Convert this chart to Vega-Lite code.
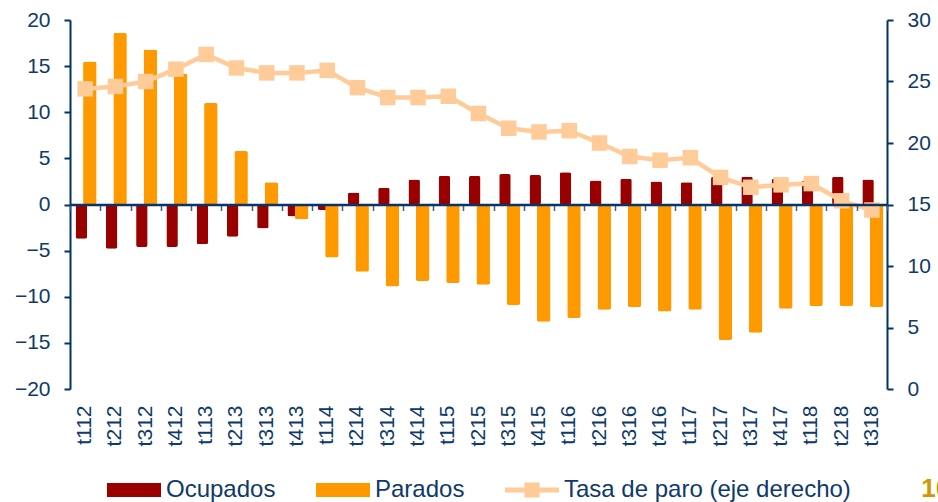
{
  "$schema": "https://vega.github.io/schema/vega-lite/v6.json",
  "width": 817,
  "height": 369,
  "autosize": {"type": "none"},
  "padding": {"left": 70, "top": 20, "right": 51, "bottom": 113},
  "background": "white",
  "config": {
    "view": {"stroke": null},
    "font": "Liberation Sans",
    "axis": {"labelFont": "Liberation Sans", "labelColor": "#0E3A6A", "domainColor": "#003366", "tickColor": "#003366", "grid": false, "title": null}
  },
  "title": {"text": "10", "orient": "right", "anchor": "end", "frame": "group", "angle": 0, "align": "left", "baseline": "alphabetic", "color": "#CC9900", "fontSize": 26, "fontWeight": "bold", "font": "Liberation Sans", "offset": -38, "dy": 108},
  "data": {
    "values": [
      {"q": "t112", "s": "Ocupados", "v": -3.7}, {"q": "t112", "s": "Parados", "v": 15.5}, {"q": "t112", "s": "Tasa de paro (eje derecho)", "v": 24.4},
      {"q": "t212", "s": "Ocupados", "v": -4.8}, {"q": "t212", "s": "Parados", "v": 18.6}, {"q": "t212", "s": "Tasa de paro (eje derecho)", "v": 24.6},
      {"q": "t312", "s": "Ocupados", "v": -4.6}, {"q": "t312", "s": "Parados", "v": 16.8}, {"q": "t312", "s": "Tasa de paro (eje derecho)", "v": 25.0},
      {"q": "t412", "s": "Ocupados", "v": -4.6}, {"q": "t412", "s": "Parados", "v": 14.2}, {"q": "t412", "s": "Tasa de paro (eje derecho)", "v": 26.0},
      {"q": "t113", "s": "Ocupados", "v": -4.3}, {"q": "t113", "s": "Parados", "v": 11.0}, {"q": "t113", "s": "Tasa de paro (eje derecho)", "v": 27.2},
      {"q": "t213", "s": "Ocupados", "v": -3.5}, {"q": "t213", "s": "Parados", "v": 5.8}, {"q": "t213", "s": "Tasa de paro (eje derecho)", "v": 26.1},
      {"q": "t313", "s": "Ocupados", "v": -2.6}, {"q": "t313", "s": "Parados", "v": 2.4}, {"q": "t313", "s": "Tasa de paro (eje derecho)", "v": 25.7},
      {"q": "t413", "s": "Ocupados", "v": -1.3}, {"q": "t413", "s": "Parados", "v": -1.6}, {"q": "t413", "s": "Tasa de paro (eje derecho)", "v": 25.7},
      {"q": "t114", "s": "Ocupados", "v": -0.6}, {"q": "t114", "s": "Parados", "v": -5.75}, {"q": "t114", "s": "Tasa de paro (eje derecho)", "v": 25.9},
      {"q": "t214", "s": "Ocupados", "v": 1.3}, {"q": "t214", "s": "Parados", "v": -7.3}, {"q": "t214", "s": "Tasa de paro (eje derecho)", "v": 24.5},
      {"q": "t314", "s": "Ocupados", "v": 1.8}, {"q": "t314", "s": "Parados", "v": -8.9}, {"q": "t314", "s": "Tasa de paro (eje derecho)", "v": 23.7},
      {"q": "t414", "s": "Ocupados", "v": 2.7}, {"q": "t414", "s": "Parados", "v": -8.3}, {"q": "t414", "s": "Tasa de paro (eje derecho)", "v": 23.7},
      {"q": "t115", "s": "Ocupados", "v": 3.1}, {"q": "t115", "s": "Parados", "v": -8.5}, {"q": "t115", "s": "Tasa de paro (eje derecho)", "v": 23.8},
      {"q": "t215", "s": "Ocupados", "v": 3.1}, {"q": "t215", "s": "Parados", "v": -8.7}, {"q": "t215", "s": "Tasa de paro (eje derecho)", "v": 22.4},
      {"q": "t315", "s": "Ocupados", "v": 3.3}, {"q": "t315", "s": "Parados", "v": -10.9}, {"q": "t315", "s": "Tasa de paro (eje derecho)", "v": 21.2},
      {"q": "t415", "s": "Ocupados", "v": 3.2}, {"q": "t415", "s": "Parados", "v": -12.7}, {"q": "t415", "s": "Tasa de paro (eje derecho)", "v": 20.9},
      {"q": "t116", "s": "Ocupados", "v": 3.5}, {"q": "t116", "s": "Parados", "v": -12.3}, {"q": "t116", "s": "Tasa de paro (eje derecho)", "v": 21.0},
      {"q": "t216", "s": "Ocupados", "v": 2.6}, {"q": "t216", "s": "Parados", "v": -11.4}, {"q": "t216", "s": "Tasa de paro (eje derecho)", "v": 20.0},
      {"q": "t316", "s": "Ocupados", "v": 2.8}, {"q": "t316", "s": "Parados", "v": -11.1}, {"q": "t316", "s": "Tasa de paro (eje derecho)", "v": 18.9},
      {"q": "t416", "s": "Ocupados", "v": 2.5}, {"q": "t416", "s": "Parados", "v": -11.6}, {"q": "t416", "s": "Tasa de paro (eje derecho)", "v": 18.6},
      {"q": "t117", "s": "Ocupados", "v": 2.4}, {"q": "t117", "s": "Parados", "v": -11.4}, {"q": "t117", "s": "Tasa de paro (eje derecho)", "v": 18.8},
      {"q": "t217", "s": "Ocupados", "v": 3.0}, {"q": "t217", "s": "Parados", "v": -14.7}, {"q": "t217", "s": "Tasa de paro (eje derecho)", "v": 17.2},
      {"q": "t317", "s": "Ocupados", "v": 3.0}, {"q": "t317", "s": "Parados", "v": -13.9}, {"q": "t317", "s": "Tasa de paro (eje derecho)", "v": 16.4},
      {"q": "t417", "s": "Ocupados", "v": 2.8}, {"q": "t417", "s": "Parados", "v": -11.3}, {"q": "t417", "s": "Tasa de paro (eje derecho)", "v": 16.6},
      {"q": "t118", "s": "Ocupados", "v": 2.6}, {"q": "t118", "s": "Parados", "v": -11.0}, {"q": "t118", "s": "Tasa de paro (eje derecho)", "v": 16.7},
      {"q": "t218", "s": "Ocupados", "v": 3.0}, {"q": "t218", "s": "Parados", "v": -11.0}, {"q": "t218", "s": "Tasa de paro (eje derecho)", "v": 15.3},
      {"q": "t318", "s": "Ocupados", "v": 2.7}, {"q": "t318", "s": "Parados", "v": -11.1}, {"q": "t318", "s": "Tasa de paro (eje derecho)", "v": 14.55}
    ]
  },
  "layer": [
    {
      "layer": [
        {
          "transform": [{"filter": "datum.s === 'Ocupados'"}],
          "mark": {"type": "bar", "width": 11.5, "xOffset": -3.8, "cornerRadius": 2},
          "encoding": {
            "x": {"field": "q", "type": "ordinal", "sort": null, "scale": {"paddingInner": 0, "paddingOuter": 0},
                  "axis": {"orient": "bottom", "domain": false, "ticks": false, "labelAngle": -90, "labelAlign": "right", "labelBaseline": "middle", "labelPadding": 16, "labelFontSize": 21}},
            "y": {"field": "v", "type": "quantitative", "scale": {"domain": [-20, 20], "nice": false},
                  "axis": {"orient": "left", "values": [-20, -15, -10, -5, 0, 5, 10, 15, 20], "labelFontSize": 21, "domainWidth": 2, "tickWidth": 2, "tickSize": 6, "labelPadding": 14}},
            "color": {"field": "s", "type": "nominal",
                      "scale": {"domain": ["Ocupados", "Parados", "Tasa de paro (eje derecho)"], "range": ["#990000", "#FF9900", "#FFCC99"]},
                      "legend": {"orient": "none", "legendX": 37, "legendY": 443, "direction": "horizontal", "title": null,
                                 "labelFontSize": 24, "labelColor": "#0E3A6A", "labelFont": "Liberation Sans", "labelLimit": 0, "symbolSize": 2916,
                                 "symbolStrokeWidth": 0, "labelOffset": 5, "columnPadding": 40, "symbolType": "square",
                                 "encode": {"symbols": {"update": {"shape": {"signal": "datum.value === 'Tasa de paro (eje derecho)' ? 'M-1,-0.09H1V0.09H-1Z M-0.28,-0.28H0.28V0.28H-0.28Z' : 'M-1,-0.26H1V0.26H-1Z'"}}}}}}
          }
        },
        {
          "transform": [{"filter": "datum.s === 'Parados'"}],
          "mark": {"type": "bar", "width": 13.5, "xOffset": 4.7, "cornerRadius": 2},
          "encoding": {
            "x": {"field": "q", "type": "ordinal", "sort": null},
            "y": {"field": "v", "type": "quantitative"},
            "color": {"field": "s", "type": "nominal"}
          }
        }
      ]
    },
    {
      "transform": [{"filter": "datum.s === 'Tasa de paro (eje derecho)'"}],
      "encoding": {
        "x": {"field": "q", "type": "ordinal", "sort": null,
              "axis": {"orient": "bottom", "offset": -184.5, "labels": false, "domain": true, "domainWidth": 2.5, "domainColor": "#0B3366", "ticks": true, "tickSize": 6, "tickWidth": 1.5, "tickBand": "extent", "tickColor": "#3A6090", "zindex": 1}},
        "y": {"field": "v", "type": "quantitative", "scale": {"domain": [0, 30], "nice": false},
              "axis": {"orient": "right", "values": [0, 5, 10, 15, 20, 25, 30], "labelFontSize": 21, "domainWidth": 2, "tickWidth": 2, "tickSize": 6, "labelPadding": 14}}
      },
      "layer": [
        {"mark": {"type": "line", "color": "#FFCC99", "strokeWidth": 4.5}},
        {"mark": {"type": "point", "shape": "square", "filled": true, "size": 240, "opacity": 1, "color": "#FFCC99"}}
      ]
    }
  ],
  "resolve": {"scale": {"y": "independent"}, "axis": {"x": "independent"}}
}
